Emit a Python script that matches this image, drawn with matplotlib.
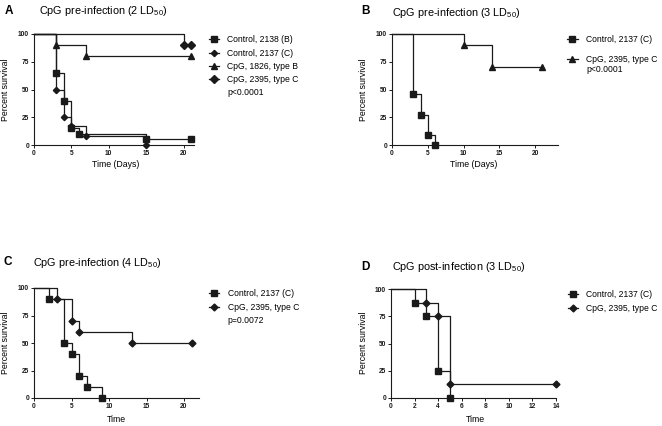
import matplotlib
matplotlib.use("Agg")
import matplotlib.pyplot as plt
from matplotlib.lines import Line2D

plt.rcParams["font.family"] = ["Liberation Sans", "DejaVu Sans"]
plt.rcParams["mathtext.fontset"] = "custom"
plt.rcParams["mathtext.rm"] = "Liberation Sans"
plt.rcParams["mathtext.it"] = "Liberation Sans"

W, H = 662, 426

# ----- Données (temps en jours, survie en %) -----
a_ctrl_b_t = [0, 3, 4, 5, 6, 15, 21]
a_ctrl_b_s = [100, 65, 40, 15, 10, 5, 5]
a_ctrl_c_t = [0, 3, 4, 5, 7, 15]
a_ctrl_c_s = [100, 50, 25, 16.7, 8.3, 0]
a_cpg1826_t = [0, 3, 7, 21]
a_cpg1826_s = [100, 90, 80, 80]
a_cpg2395_t = [0, 20, 21]
a_cpg2395_s = [100, 90, 90]

b_ctrl_t = [0, 3, 4, 5, 6]
b_ctrl_s = [100, 45.5, 27.3, 9.1, 0]
b_cpg_t = [0, 10, 14, 21]
b_cpg_s = [100, 90, 70, 70]

c_ctrl_t = [0, 2, 4, 5, 6, 7, 9]
c_ctrl_s = [100, 90, 50, 40, 20, 10, 0]
c_cpg_t = [0, 3, 5, 6, 13, 21]
c_cpg_s = [100, 90, 70, 60, 50, 50]

d_ctrl_t = [0, 2, 3, 4, 5]
d_ctrl_s = [100, 87.5, 75, 25, 0]
d_cpg_t = [0, 3, 4, 5, 14]
d_cpg_s = [100, 87.5, 75, 12.5, 12.5]

COL = "#1a1a1a"


def px_rect(left, right, top, bottom):
    return [left / W, 1 - bottom / H, (right - left) / W, (bottom - top) / H]


def courbe(ax, t, s, marker, ms, label):
    ax.step(t, s, where="post", color=COL, linewidth=0.9, marker=marker,
            markersize=ms, markevery=list(range(1, len(t))), clip_on=False,
            label=label)


def style_axes(ax, xmax, xticks):
    ax.set_xlim(0, xmax)
    ax.set_ylim(0, 100)
    ax.set_xticks(xticks)
    ax.set_yticks([0, 25, 50, 75, 100])
    for side in ("top", "right"):
        ax.spines[side].set_visible(False)
    for side in ("left", "bottom"):
        ax.spines[side].set_linewidth(0.8)
        ax.spines[side].set_color(COL)
    ax.tick_params(direction="out", length=2, width=0.7, labelsize=4.8,
                   pad=1.5, colors=COL)
    for lab in ax.get_xticklabels() + ax.get_yticklabels():
        lab.set_fontweight("bold")


def legende(ax, p_txt, spacing, x_anchor):
    handles, labels = ax.get_legend_handles_labels()
    if p_txt:
        handles.append(Line2D([], [], linestyle="none"))
        labels.append(p_txt)
    ax.legend(handles, labels, loc="upper left", bbox_to_anchor=(x_anchor, 1.02),
              frameon=False, fontsize=6.2, handlelength=1.2,
              handletextpad=0.95, labelspacing=spacing, borderaxespad=0)


def txt(x, y, s, **kw):
    fig.text(x / W, 1 - y / H, s, **kw)


fig = plt.figure(figsize=(W / 100, H / 100), dpi=100)

# ---- A ----
ax_a = fig.add_axes(px_rect(34, 194, 34, 145))
courbe(ax_a, a_ctrl_b_t, a_ctrl_b_s, "s", 4, "Control, 2138 (B)")
courbe(ax_a, a_ctrl_c_t, a_ctrl_c_s, "D", 3.2, "Control, 2137 (C)")
courbe(ax_a, a_cpg1826_t, a_cpg1826_s, "^", 4, "CpG, 1826, type B")
courbe(ax_a, a_cpg2395_t, a_cpg2395_s, "D", 4, "CpG, 2395, type C")
style_axes(ax_a, 21.4, [0, 5, 10, 15, 20])
legende(ax_a, "p<0.0001", 0.5, 1.07)

# ---- B ----
ax_b = fig.add_axes(px_rect(392, 558, 34, 145))
courbe(ax_b, b_ctrl_t, b_ctrl_s, "s", 4, "Control, 2137 (C)")
courbe(ax_b, b_cpg_t, b_cpg_s, "^", 4, "CpG, 2395, type C")
style_axes(ax_b, 23.2, [0, 5, 10, 15, 20])
legende(ax_b, None, 1.2, 1.035)

# ---- C ----
ax_c = fig.add_axes(px_rect(34, 199, 288, 398))
courbe(ax_c, c_ctrl_t, c_ctrl_s, "s", 4, "Control, 2137 (C)")
courbe(ax_c, c_cpg_t, c_cpg_s, "D", 3.5, "CpG, 2395, type C")
style_axes(ax_c, 22, [0, 5, 10, 15, 20])
legende(ax_c, "p=0.0072", 0.5, 1.04)

# ---- D ----
ax_d = fig.add_axes(px_rect(391, 556, 289, 398))
courbe(ax_d, d_ctrl_t, d_ctrl_s, "s", 4, "Control, 2137 (C)")
courbe(ax_d, d_cpg_t, d_cpg_s, "D", 3.5, "CpG, 2395, type C")
style_axes(ax_d, 14, list(range(0, 15, 2)))
legende(ax_d, None, 0.6, 1.05)

# ---- Textes ----
lettre = dict(fontsize=8.5, fontweight="bold", va="center", ha="left")
titre = dict(fontsize=7.8, va="center", ha="left")
ylab = dict(fontsize=6.3, rotation=90, va="center", ha="center")
xlab = dict(fontsize=6.3, va="center", ha="center")

txt(5, 11, "A", **lettre)
txt(39, 11, "CpG pre-infection (2 LD$_{50}$)", **titre)
txt(361, 11, "B", **lettre)
txt(392, 13, "CpG pre-infection (3 LD$_{50}$)", **titre)
txt(3, 262, "C", **lettre)
txt(33, 263, "CpG pre-infection (4 LD$_{50}$)", **titre)
txt(361, 267, "D", **lettre)
txt(392, 267, "CpG post-infection (3 LD$_{50}$)", **titre)

# p-value du panneau B, sous la seconde entrée de légende
txt(586, 69, "p<0.0001", fontsize=6.2, va="center", ha="left")

txt(6, 90, "Percent survival", **ylab)
txt(364, 90, "Percent survival", **ylab)
txt(6, 343, "Percent survival", **ylab)
txt(364, 343, "Percent survival", **ylab)

txt(116, 165, "Time (Days)", **xlab)
txt(474, 165, "Time (Days)", **xlab)
txt(116, 419, "Time", **xlab)
txt(475, 419, "Time", **xlab)

fig.savefig("out.png", dpi=100)
